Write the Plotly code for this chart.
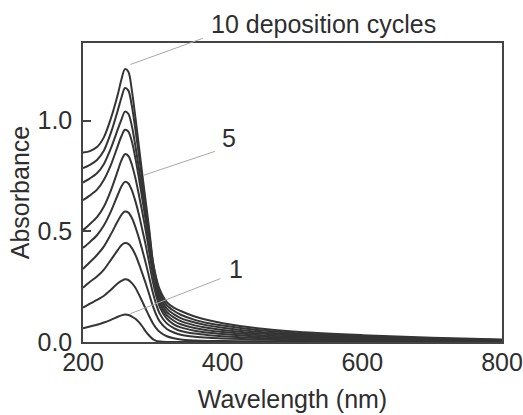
import plotly.graph_objects as go

# Wavelength grid (nm) shared by all spectra
wavelength = [200, 210, 220, 230, 240, 250, 255, 260, 265, 270, 275, 280, 285, 290, 295,
              300, 305, 310, 320, 330, 340, 360, 380, 400, 450, 500, 600, 700, 800]

# Absorbance after 1..10 deposition cycles
cycle_1 = [0.062, 0.070, 0.078, 0.088, 0.100, 0.114, 0.120, 0.124, 0.122, 0.115, 0.105, 0.090, 0.070, 0.047, 0.028,
           0.013, 0.005, 0.002, 0.000, 0.000, 0.000, 0.000, 0.000, 0.000, 0.000, 0.000, 0.000, 0.000, 0.000]
cycle_2 = [0.155, 0.173, 0.190, 0.209, 0.236, 0.265, 0.276, 0.283, 0.280, 0.266, 0.245, 0.215, 0.182, 0.148, 0.115,
           0.085, 0.062, 0.045, 0.026, 0.017, 0.011, 0.007, 0.005, 0.004, 0.003, 0.002, 0.001, 0.001, 0.000]
cycle_3 = [0.245, 0.272, 0.296, 0.327, 0.371, 0.416, 0.437, 0.447, 0.443, 0.424, 0.394, 0.354, 0.309, 0.263, 0.213,
           0.163, 0.122, 0.092, 0.059, 0.043, 0.033, 0.024, 0.019, 0.016, 0.011, 0.008, 0.005, 0.003, 0.002]
cycle_4 = [0.330, 0.361, 0.393, 0.432, 0.487, 0.547, 0.574, 0.589, 0.584, 0.560, 0.520, 0.470, 0.414, 0.354, 0.289,
           0.223, 0.168, 0.127, 0.084, 0.063, 0.050, 0.038, 0.031, 0.026, 0.018, 0.013, 0.008, 0.005, 0.003]
cycle_5 = [0.425, 0.452, 0.482, 0.527, 0.590, 0.666, 0.702, 0.723, 0.716, 0.685, 0.636, 0.576, 0.506, 0.434, 0.354,
           0.273, 0.207, 0.157, 0.106, 0.080, 0.066, 0.051, 0.042, 0.036, 0.025, 0.019, 0.012, 0.007, 0.004]
cycle_6 = [0.505, 0.533, 0.564, 0.612, 0.685, 0.775, 0.820, 0.848, 0.840, 0.800, 0.740, 0.665, 0.585, 0.500, 0.404,
           0.308, 0.232, 0.175, 0.121, 0.096, 0.080, 0.063, 0.052, 0.045, 0.032, 0.024, 0.015, 0.009, 0.005]
cycle_7 = [0.640, 0.662, 0.688, 0.733, 0.800, 0.887, 0.929, 0.958, 0.950, 0.905, 0.830, 0.740, 0.645, 0.545, 0.440,
           0.333, 0.252, 0.192, 0.136, 0.111, 0.094, 0.075, 0.063, 0.054, 0.039, 0.029, 0.019, 0.011, 0.006]
cycle_8 = [0.720, 0.739, 0.762, 0.804, 0.875, 0.962, 1.004, 1.040, 1.030, 0.975, 0.885, 0.785, 0.680, 0.570, 0.460,
           0.348, 0.267, 0.207, 0.151, 0.126, 0.108, 0.088, 0.074, 0.064, 0.046, 0.035, 0.023, 0.013, 0.007]
cycle_9 = [0.785, 0.800, 0.822, 0.865, 0.945, 1.048, 1.103, 1.147, 1.135, 1.065, 0.960, 0.845, 0.725, 0.605, 0.485,
           0.362, 0.282, 0.222, 0.166, 0.141, 0.123, 0.100, 0.085, 0.074, 0.054, 0.041, 0.027, 0.016, 0.009]
cycle_10 = [0.855, 0.862, 0.880, 0.925, 1.010, 1.120, 1.185, 1.232, 1.220, 1.135, 1.015, 0.885, 0.755, 0.630, 0.505,
            0.365, 0.288, 0.236, 0.180, 0.155, 0.140, 0.115, 0.098, 0.085, 0.062, 0.047, 0.031, 0.019, 0.011]

spectra = [cycle_1, cycle_2, cycle_3, cycle_4, cycle_5,
           cycle_6, cycle_7, cycle_8, cycle_9, cycle_10]

x_ticks = [200, 400, 600, 800]
y_ticks = [0.0, 0.5, 1.0]

# Curve labels: text, label position (paper units), leader start on curve and leader end (data units)
labels = [
    ("10 deposition cycles", (0.575, 1.064), (268, 1.253), (374, 1.374)),
    ("5", (0.348, 0.682), (287, 0.753), (391, 0.863)),
    ("1", (0.366, 0.245), (268, 0.128), (399, 0.289)),
]

FONT = "Liberation Sans, Arial, Helvetica, sans-serif"
INK = "#2e2e2e"

fig = go.Figure()
for values in spectra:
    fig.add_trace(go.Scatter(
        x=wavelength, y=values, mode="lines",
        line=dict(color="#353535", width=2, shape="spline", smoothing=0.8),
        showlegend=False, hoverinfo="skip",
    ))

for text, (tx, ty), (x0, y0), (x1, y1) in labels:
    fig.add_annotation(
        x=x0, y=y0, ax=x1, ay=y1, xref="x", yref="y", axref="x", ayref="y",
        text="", showarrow=True, arrowhead=0, arrowwidth=1, arrowcolor="#a8a8a8",
    )
    fig.add_annotation(
        x=tx, y=ty, xref="paper", yref="paper", text=text, showarrow=False,
        font=dict(family=FONT, size=25, color=INK),
        xanchor="center", yanchor="middle",
    )

axis_common = dict(
    showline=True, mirror=True, linecolor="#444444", linewidth=1.5,
    showgrid=False, zeroline=False, automargin=False,
    tickfont=dict(family=FONT, size=25, color=INK),
)

fig.update_xaxes(
    range=[200, 800], tickvals=x_ticks, ticks="", ticklabelstandoff=-3,
    title=dict(text="Wavelength (nm)", font=dict(family=FONT, size=25, color=INK), standoff=16),
    **axis_common,
)
fig.update_yaxes(
    range=[0, 1.35], tickvals=y_ticks, tickformat=".1f",
    ticks="inside", ticklen=8, tickwidth=1.5, tickcolor="#444444", ticklabelstandoff=4,
    title=dict(text="Absorbance", font=dict(family=FONT, size=25, color=INK), standoff=1),
    **axis_common,
)

fig.update_layout(
    width=523, height=415,
    margin=dict(l=83, r=21, t=43, b=73),
    paper_bgcolor="white", plot_bgcolor="white",
)

fig.write_html("out.html")
